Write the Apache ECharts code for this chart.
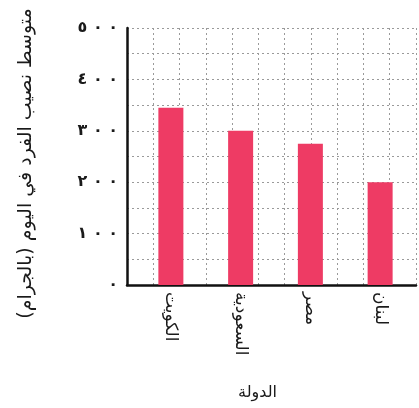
<!DOCTYPE html>
<html><head><meta charset="utf-8">
<script src="https://cdn.jsdelivr.net/npm/echarts@6/dist/echarts.min.js"></script>
<style>html,body{margin:0;padding:0;background:#fff}#c{width:419px;height:408px}</style>
</head><body><div id="c"></div>
<script>
const categories = ['الكويت', 'السعودية', 'مصر', 'لبنان'];
const values = [345, 300, 275, 200];
const yTickLabels = {0: '٠', 100: '١٠٠', 200: '٢٠٠', 300: '٣٠٠', 400: '٤٠٠', 500: '٥٠٠'};
const yTitle = 'متوسط نصيب الفرد في اليوم (بالجرام)';
const xTitle = 'الدولة';

const font = 'DejaVu Sans';
const gridLine = {show: true, lineStyle: {color: '#9a9a9a', type: [2, 3], width: 1}};
const chart = echarts.init(document.getElementById('c'));
chart.setOption({
  animation: false,
  textStyle: {fontFamily: font},
  grid: [
    {left: 127, right: 3, top: 28, bottom: 123, outerBoundsMode: 'none', containLabel: false},
    {left: 136, right: 4, top: 28, bottom: 123, outerBoundsMode: 'none', containLabel: false}
  ],
  xAxis: [
    {type: 'value', gridIndex: 0, min: 0, max: 11, interval: 1,
     axisLine: {show: true, onZero: false, lineStyle: {color: '#111', width: 2.5}},
     axisTick: {show: false}, axisLabel: {show: false}, splitLine: gridLine},
    {type: 'category', gridIndex: 1, data: categories,
     axisLine: {show: false}, axisTick: {show: false},
     axisLabel: {rotate: -90, margin: 7, fontSize: 17, color: '#1a1a1a', fontFamily: font},
     name: xTitle, nameLocation: 'middle', nameGap: 100,
     nameTextStyle: {fontSize: 16, color: '#1a1a1a', fontFamily: font, padding: [0, 36, 0, 0]}}
  ],
  yAxis: [
    {type: 'value', gridIndex: 0, min: 0, max: 500, interval: 100,
     axisLine: {show: true, lineStyle: {color: '#111', width: 2.5}},
     axisTick: {show: false},
     axisLabel: {margin: 9, fontSize: 16, color: '#1a1a1a', fontWeight: 'bold',
       formatter: v => (yTickLabels[v] || '').split('').join('\u200E \u200E')},
     splitLine: gridLine,
     minorTick: {show: false, splitNumber: 2},
     minorSplitLine: gridLine,
     name: yTitle, nameLocation: 'middle', nameRotate: 90, nameGap: 91,
     nameTextStyle: {fontSize: 19, color: '#1a1a1a', fontFamily: font, padding: [0, 14, 0, 0]}},
    {type: 'value', gridIndex: 1, min: 0, max: 500, show: false, splitLine: {show: false}}
  ],
  series: [{
    type: 'bar', xAxisIndex: 1, yAxisIndex: 1, data: values,
    barWidth: 25, itemStyle: {color: '#EE3B64'}
  }]
});
</script></body></html>
